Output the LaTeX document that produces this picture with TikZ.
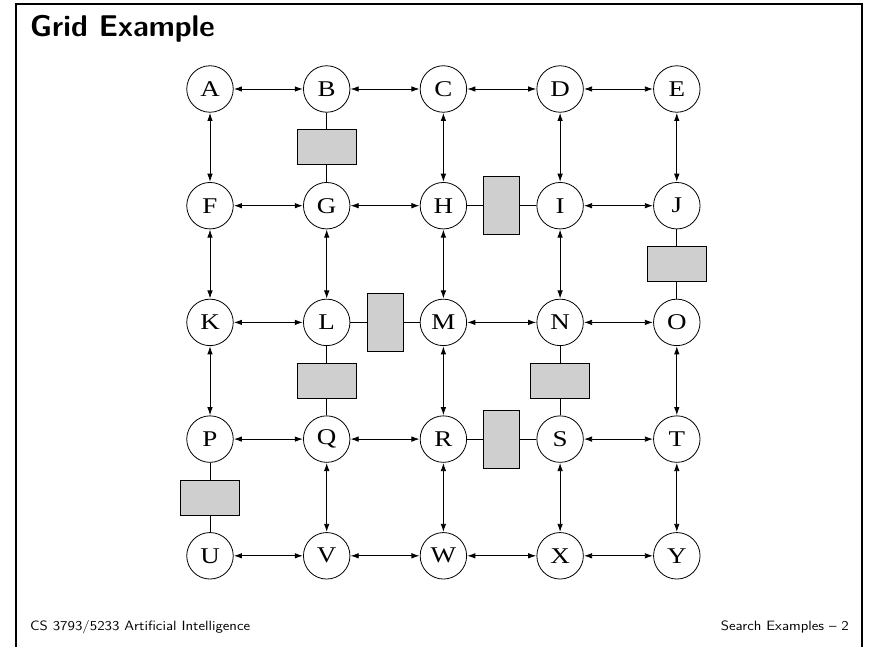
\documentclass[tikz,border=0pt]{standalone}
\usepackage{fontspec}
\newfontfamily\lettfont[FakeStretch=1.2]{Liberation Serif}
\usetikzlibrary{arrows.meta,calc}
\newcommand{\footwide}[1]{\scalebox{1.12}[1]{#1}}
\begin{document}
\begin{tikzpicture}[x=1pt,y=-1pt,
  st/.style={circle,draw,line width=0.8pt,minimum size=46.5pt,inner sep=0pt,font=\lettfont\fontsize{22.5}{22.5}\selectfont,fill=white},
  link/.style={line width=0.8pt,{Latex[length=8pt,width=5.5pt]}-{Latex[length=8pt,width=5.5pt]},shorten <=0.3pt,shorten >=0.3pt},
  wall/.style={line width=0.8pt},
  hblock/.style={draw,line width=0.8pt,fill=black!19,minimum width=59pt,minimum height=35pt,inner sep=0pt},
  vblock/.style={draw,line width=0.8pt,fill=black!19,minimum width=36pt,minimum height=58pt,inner sep=0pt},
  foot/.style={font=\sffamily\fontsize{13.5}{14}\selectfont,inner sep=0pt}]
\useasboundingbox (0,0) rectangle (871,647);
\draw[line width=2pt] (16,648) -- (16,4) -- (862,4) -- (862,648);
\node[anchor=base west,inner sep=0pt,font=\sffamily\bfseries\fontsize{30}{32}\selectfont] (title) at (30,37) {Grid Example};
\node[foot,anchor=base west] (fl) at (30,630) {\footwide{CS 3793/5233 Artificial Intelligence}};
\node[foot,anchor=base east] (fr) at (849,630) {\footwide{Search Examples -- 2}};
% nodes
\foreach \n [count=\i from 0] in {A,B,C,D,E,F,G,H,I,J,K,L,M,N,O,P,Q,R,S,T,U,V,W,X,Y}{
  \pgfmathtruncatemacro{\c}{mod(\i,5)}
  \pgfmathtruncatemacro{\r}{div(\i,5)}
  \node[st] (\n) at (210+116.7*\c, 89+116.7*\r) {\n};
}
% horizontal links
\foreach \a/\b in {A/B,B/C,C/D,D/E,F/G,G/H,I/J,K/L,M/N,N/O,P/Q,Q/R,S/T,U/V,V/W,W/X,X/Y}
  \draw[link] (\a) -- (\b);
% vertical links
\foreach \a/\b in {A/F,F/K,K/P,G/L,Q/V,C/H,H/M,M/R,R/W,D/I,I/N,S/X,E/J,O/T,T/Y}
  \draw[link] (\a) -- (\b);
% walls
\foreach \a/\b in {B/G,L/Q,N/S,J/O,P/U}{
  \draw[wall] (\a) -- (\b);
  \node[hblock] (w\a\b) at ($(\a)!0.5!(\b)$) {};
}
\foreach \a/\b in {H/I,L/M,R/S}{
  \draw[wall] (\a) -- (\b);
  \node[vblock] (w\a\b) at ($(\a)!0.5!(\b)$) {};
}
\end{tikzpicture}
\end{document}
